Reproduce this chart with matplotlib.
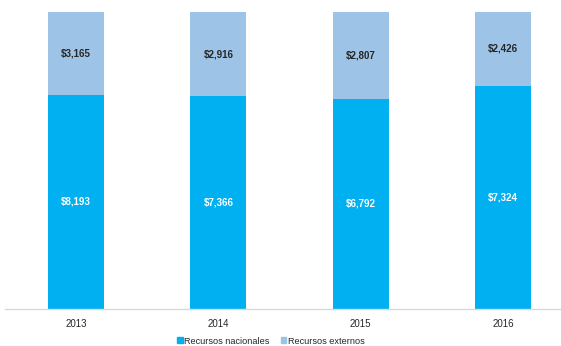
import matplotlib
matplotlib.use("Agg")
import matplotlib.pyplot as plt
from matplotlib.patches import Patch

years = ["2013", "2014", "2015", "2016"]
nacionales = [8193, 7366, 6792, 7324]
externos = [3165, 2916, 2807, 2426]

plt.rcParams['font.family'] = ['Liberation Sans', 'DejaVu Sans']

c_nac = "#00B0F0"
c_ext = "#9DC3E6"

fig = plt.figure(figsize=(5.61, 3.46), dpi=100)
ax = fig.add_axes([5 / 561, 37 / 346, 556 / 561, 297 / 346])

totals = [a + b for a, b in zip(nacionales, externos)]
share_nac = [a / t for a, t in zip(nacionales, totals)]
share_ext = [b / t for b, t in zip(externos, totals)]
x = list(range(len(years)))
w = 0.394

ax.bar(x, share_nac, width=w, color=c_nac, label="Recursos nacionales")
ax.bar(x, share_ext, width=w, bottom=share_nac, color=c_ext, label="Recursos externos")

for i in x:
    ax.text(i, share_nac[i] / 2, f"${nacionales[i]:,}", ha="center", va="center",
            color="white", fontsize=7, fontweight="bold")
    ax.text(i, share_nac[i] + share_ext[i] / 2, f"${externos[i]:,}", ha="center", va="center",
            color="#262626", fontsize=7, fontweight="bold")

ax.set_xlim(-0.5, -0.5 + 556 / 142.3)
ax.set_ylim(0, 1)
ax.set_xticks(x)
ax.set_xticklabels(years, fontsize=7, color="#262626")
ax.tick_params(axis="x", length=0, pad=7)
ax.set_yticks([])
for s in ["top", "left", "right"]:
    ax.spines[s].set_visible(False)
ax.spines["bottom"].set_color("#D9D9D9")
ax.spines["bottom"].set_linewidth(1)

handles = [Patch(color=c_nac), Patch(color=c_ext)]
fig.legend(handles, ["Recursos nacionales", "Recursos externos"], loc="center",
           bbox_to_anchor=(271 / 561, 1 - 341 / 346), ncol=2, frameon=False,
           fontsize=6.6, handlelength=0.6, handleheight=0.6, handletextpad=0.2,
           columnspacing=1.2, labelcolor="#262626")

fig.savefig("out.png", dpi=100)
